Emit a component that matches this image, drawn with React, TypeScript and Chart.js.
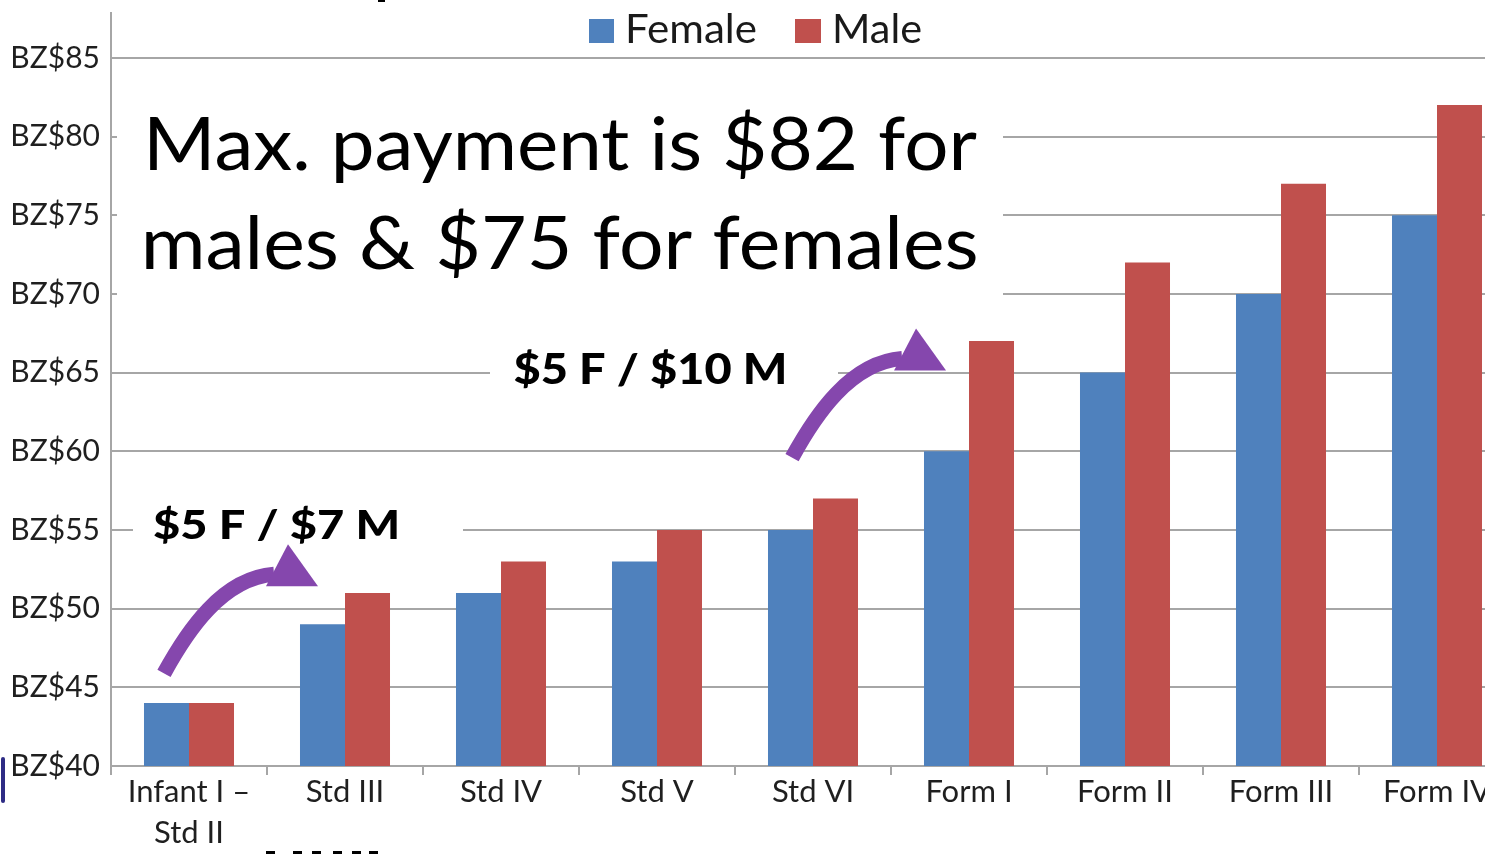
import React, { useEffect, useRef } from 'react';
import { Chart, registerables } from 'chart.js';
Chart.register(...registerables);

const categories: (string | string[])[] = [
  ['Infant I –', 'Std II'],
  'Std III',
  'Std IV',
  'Std V',
  'Std VI',
  'Form I',
  'Form II',
  'Form III',
  'Form IV',
];
const femaleValues = [44, 49, 51, 53, 55, 60, 65, 70, 75];
const maleValues = [44, 51, 53, 55, 57, 67, 72, 77, 82];
const seriesNames = ['Female', 'Male'];
const yMin = 40;
const yTopTick = 85;
const yStep = 5;
const tickPrefix = 'BZ$';
const headline = ['Max. payment is $82 for', 'males & $75 for females'];
const stepNotes = ['$5 F / $7 M', '$5 F / $10 M'];

const FONT = 'Lato, "Open Sans", "DejaVu Sans", sans-serif';
const BLUE = '#4F81BD';
const RED = '#C0504D';
const PURPLE = '#8547AD';
const GRID = '#A6A6A6';
const SHIFT = 16; // canvas is drawn 16px above the page top

function fitText(ctx: CanvasRenderingContext2D, text: string, x: number, y: number, font: string, target: number) {
  ctx.font = font;
  const w = ctx.measureText(text).width;
  const s = target / w;
  ctx.save();
  ctx.translate(x, y);
  ctx.scale(s, 1);
  ctx.textAlign = 'left';
  ctx.textBaseline = 'alphabetic';
  ctx.fillText(text, 0, 0);
  ctx.restore();
}

function drawArrow(ctx: CanvasRenderingContext2D, ex: number, ey: number) {
  ctx.save();
  ctx.strokeStyle = PURPLE;
  ctx.fillStyle = PURPLE;
  ctx.lineWidth = 15;
  ctx.lineCap = 'butt';
  ctx.beginPath();
  ctx.moveTo(ex - 108, ey + 99);
  ctx.bezierCurveTo(ex - 85, ey + 57, ex - 50, ey + 4, ex + 2, ey);
  ctx.stroke();
  ctx.beginPath();
  ctx.moveTo(ex - 6, ey + 12);
  ctx.lineTo(ex + 16, ey - 30);
  ctx.lineTo(ex + 46, ey + 12);
  ctx.closePath();
  ctx.fill();
  ctx.restore();
}

const overlayPlugin = {
  id: 'overlay',
  afterDraw(chart: any) {
    const ctx: CanvasRenderingContext2D = chart.ctx;
    const xs = chart.scales.x;
    const ys = chart.scales.y;
    const X = (i: number) => xs.getPixelForValue(0) + i * (xs.getPixelForValue(1) - xs.getPixelForValue(0));
    const Y = (v: number) => ys.getPixelForValue(v) - SHIFT;

    ctx.save();
    ctx.translate(0, SHIFT); // draw in page coordinates

    // white boxes behind text
    ctx.fillStyle = '#ffffff';
    ctx.fillRect(117, 88, 1003 - 117, 305 - 88);
    ctx.fillRect(490, 335, 838 - 490, 405 - 335);
    ctx.fillRect(133, 498, 463 - 133, 562 - 498);

    // headline and notes
    ctx.fillStyle = '#000000';
    fitText(ctx, headline[0], X(-0.295), Y(77.88), `74px ${FONT}`, 834);
    fitText(ctx, headline[1], X(-0.31), Y(71.6), `74px ${FONT}`, 838);
    fitText(ctx, stepNotes[0], X(-0.23), Y(54.4), `900 40px ${FONT}`, 247);
    fitText(ctx, stepNotes[1], X(2.08), Y(64.3), `900 42px ${FONT}`, 274);

    // arrows
    drawArrow(ctx, X(0.532), Y(52.18));
    drawArrow(ctx, X(4.558), Y(65.89));

    // legend
    ctx.fillStyle = BLUE;
    ctx.fillRect(589, 19, 25, 24);
    ctx.fillStyle = RED;
    ctx.fillRect(795, 19, 26, 24);
    ctx.fillStyle = '#1a1a1a';
    fitText(ctx, seriesNames[0], 625, 43, `40px ${FONT}`, 132);
    fitText(ctx, seriesNames[1], 832, 43, `40px ${FONT}`, 90);

    // small artifacts of the original picture
    ctx.strokeStyle = '#2E2C85';
    ctx.lineWidth = 4;
    ctx.lineCap = 'round';
    ctx.beginPath();
    ctx.moveTo(3, 759);
    ctx.lineTo(3, 801);
    ctx.stroke();
    ctx.fillStyle = '#000000';
    [266, 293, 312, 333, 352, 369].forEach((dx) => ctx.fillRect(dx, 851, 9, 3));
    ctx.fillRect(378, 0, 7, 2);
    ctx.restore();
  },
};

export default function App() {
  const ref = useRef<HTMLCanvasElement | null>(null);
  useEffect(() => {
    if (!ref.current) return;
    const chart = new Chart(ref.current, {
      type: 'bar',
      data: {
        labels: categories as any,
        datasets: [
          { label: seriesNames[0], data: femaleValues, backgroundColor: BLUE, borderWidth: 0, categoryPercentage: 0.577, barPercentage: 1 },
          { label: seriesNames[1], data: maleValues, backgroundColor: RED, borderWidth: 0, categoryPercentage: 0.577, barPercentage: 1 },
        ],
      },
      options: {
        responsive: false,
        animation: false,
        layout: { padding: { top: 12 + SHIFT, left: 0, right: 0, bottom: 0 } },
        plugins: { legend: { display: false }, tooltip: { enabled: false } },
        scales: {
          x: {
            offset: true,
            grid: { offset: true, drawOnChartArea: false, drawTicks: true, tickLength: 9, color: GRID, lineWidth: 2 },
            border: { display: true, color: GRID, width: 2 },
            ticks: {
              color: '#1f1f1f',
              font: { family: FONT, size: 31, lineHeight: 1.33 },
              padding: -4,
              maxRotation: 0,
              autoSkip: false,
            },
            afterFit(scale: any) { scale.height = 88; },
          },
          y: {
            min: yMin,
            max: 87.85,
            grid: { drawTicks: false, color: GRID, lineWidth: 2 },
            border: { display: true, color: GRID, width: 2 },
            ticks: {
              stepSize: yStep,
              includeBounds: false,
              color: '#1f1f1f',
              font: { family: FONT, size: 30 },
              padding: 11,
              callback: (v: any) => (Number(v) <= yTopTick ? `${tickPrefix}${v}` : ''),
            },
            afterFit(scale: any) { scale.width = 111; },
          },
        },
      },
      plugins: [overlayPlugin],
    });
    return () => chart.destroy();
  }, []);
  return (
    <div style={{ position: 'fixed', left: 0, top: 0, width: 1485, height: 854, overflow: 'hidden', background: '#ffffff' }}>
      <canvas
        ref={ref}
        width={1515}
        height={854 + SHIFT}
        style={{ display: 'block', width: 1515, height: 854 + SHIFT, marginTop: -SHIFT }}
      />
    </div>
  );
}
